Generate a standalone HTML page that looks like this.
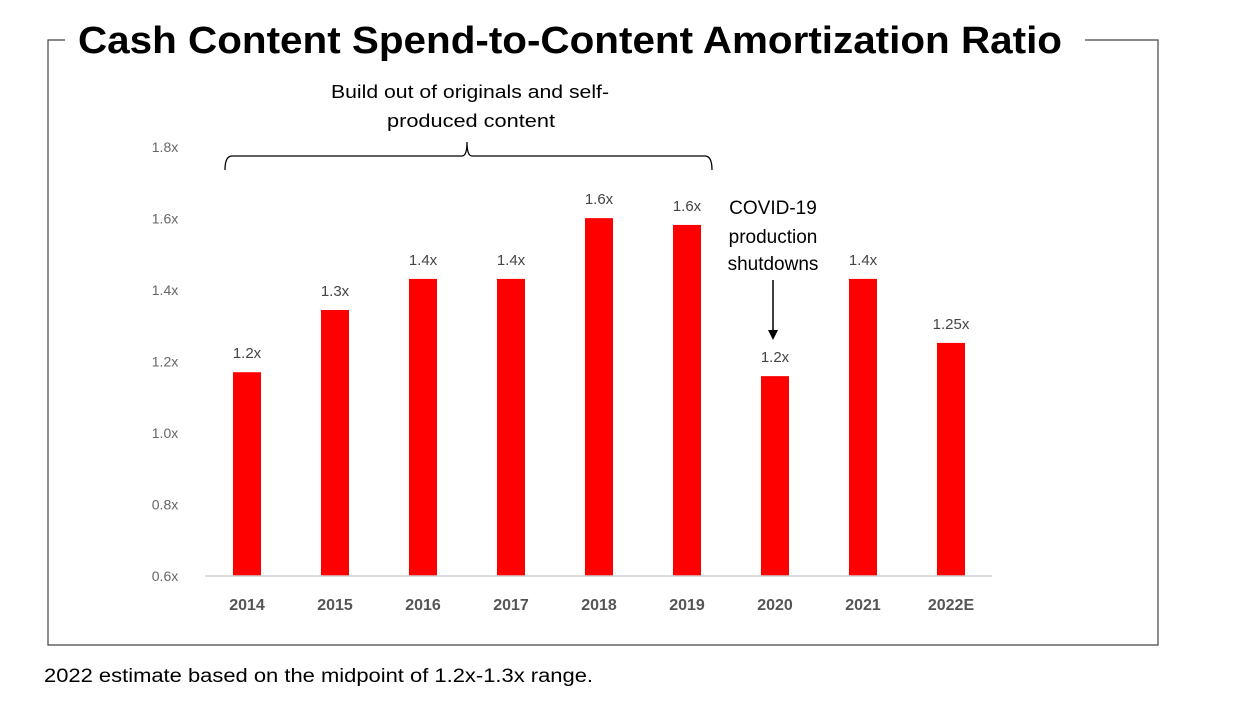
<!DOCTYPE html>
<html><head><meta charset="utf-8"><style>body{margin:0;background:#fff}svg{display:block}</style></head>
<body>
<svg width="1244" height="716" font-family="Liberation Sans, sans-serif">
<g stroke="#444" stroke-width="1.2" fill="none">
<polyline points="65,40 48,40 48,645 1158,645 1158,40 1085,40"/>
</g>
<text x="78" y="53" font-size="38" font-weight="bold" textLength="984" lengthAdjust="spacingAndGlyphs">Cash Content Spend-to-Content Amortization Ratio</text>
<g id="yaxis"></g>
<g id="bars"></g>
<g id="xaxis"></g>
<g>
<path d="M225,170 Q225,156 232,156 L462,156 Q467,156 467,142 Q467,156 472,156 L705,156 Q712,156 712,170" fill="none" stroke="#000" stroke-width="1.3"/>
<text x="331" y="98" font-size="18" textLength="278" lengthAdjust="spacingAndGlyphs">Build out of originals and self-</text>
<text x="387" y="127" font-size="18" textLength="168" lengthAdjust="spacingAndGlyphs">produced content</text>
</g>
<g>
<text x="773" y="214" font-size="19" text-anchor="middle">COVID-19</text>
<text x="773" y="243" font-size="19" text-anchor="middle">production</text>
<text x="773" y="270" font-size="19" text-anchor="middle">shutdowns</text>
<line x1="773" y1="280" x2="773" y2="332" stroke="#000" stroke-width="1.5"/>
<polygon points="768,330 778,330 773,340" fill="#000"/>
</g>
<text x="44" y="682" font-size="19" textLength="549" lengthAdjust="spacingAndGlyphs">2022 estimate based on the midpoint of 1.2x-1.3x range.</text>
<script>
const categories=["2014","2015","2016","2017","2018","2019","2020","2021","2022E"];
const values=[1.17,1.344,1.431,1.431,1.601,1.582,1.159,1.431,1.252];
const valueLabels=["1.2x","1.3x","1.4x","1.4x","1.6x","1.6x","1.2x","1.4x","1.25x"];
const yTicks=[0.6,0.8,1.0,1.2,1.4,1.6,1.8];
const yTickLabels=["0.6x","0.8x","1.0x","1.2x","1.4x","1.6x","1.8x"];
const NS="http://www.w3.org/2000/svg";
const y=v=>576-(v-0.6)/0.2*71.5;
const x=i=>247+i*88;
function mk(t,a,p){const e=document.createElementNS(NS,t);for(const k in a)e.setAttribute(k,a[k]);p.appendChild(e);return e;}
const ya=document.getElementById('yaxis'),ba=document.getElementById('bars'),xa=document.getElementById('xaxis');
yTicks.forEach((v,i)=>{const t=mk('text',{x:165,y:y(v)+5,'font-size':14,fill:'#666','text-anchor':'middle'},ya);t.textContent=yTickLabels[i];

});
const ax=mk('line',{x1:205,x2:992,y1:576,y2:576,stroke:'#d0d0d0','stroke-width':1.5},xa);


categories.forEach((c,i)=>{
const r=mk('rect',{x:x(i)-14,y:y(values[i]),width:28,height:576-y(values[i]),fill:'#ff0000'},ba);


const l=mk('text',{x:x(i),y:y(values[i])-14,'font-size':15,fill:'#444','text-anchor':'middle'},ba);l.textContent=valueLabels[i];


const t=mk('text',{x:x(i),y:610,'font-size':16,'font-weight':'bold',fill:'#555','text-anchor':'middle'},xa);t.textContent=c;


});
</script>
</svg>
</body></html>
